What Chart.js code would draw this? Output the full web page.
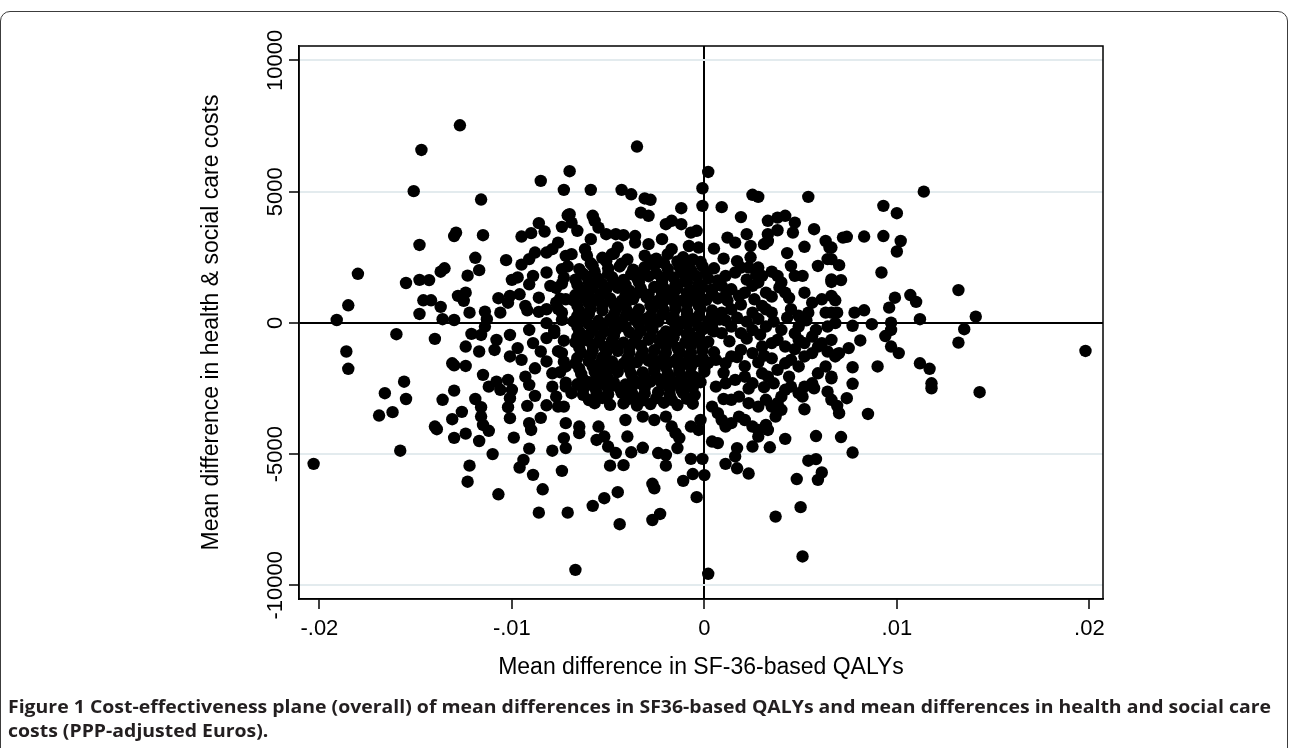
<!DOCTYPE html>
<html lang="en">
<head>
  <meta charset="UTF-8">
  <title>Cost-effectiveness plane</title>
  <script src="https://cdn.jsdelivr.net/npm/chart.js"></script>
  <style>
    body {
      margin: 0;
      background: #fff;
      width: 1290px;
      height: 748px;
      overflow: hidden;
      position: relative;
    }
    #frame {
      position: absolute;
      left: 0;
      top: 11px;
      width: 1286px;
      height: 800px;
      border: 1.5px solid #3c3c3c;
      border-radius: 10px;
    }
    #chartBox {
      position: absolute;
      left: 0;
      top: 0;
    }
    #caption {
      position: absolute;
      left: 8px;
      top: 694px;
      font-family: "Open Sans", "Noto Sans", sans-serif;
      font-weight: 700;
      font-size: 18.5px;
      line-height: 24px;
      color: #231f20;
      white-space: nowrap;
      transform-origin: left top;
    }
    #caption span { display: inline-block; }
  </style>
</head>
<body>
  <div id="frame"></div>
  <div id="chartBox">
    <canvas id="cePlane" width="1290" height="748"></canvas>
  </div>
  <div id="caption">
    <span id="capLine1">Figure 1 Cost-effectiveness plane (overall) of mean differences in SF36-based QALYs and mean differences in health and social care</span><br>
    <span>costs (PPP-adjusted Euros).</span>
  </div>

  <script>
    // axis ticks
    const xTicks = [-0.02, -0.01, 0, 0.01, 0.02];
    const xTickLabels = ['-.02', '-.01', '0', '.01', '.02'];
    const yTicks = [-10000, -5000, 0, 5000, 10000];
    const yTickLabels = ['-10000', '-5000', '0', '5000', '10000'];

    // bootstrap replicates: [mean diff in QALYs, mean diff in costs]
    const replicates = [
      // upper left
      [-0.0127,7530],[-0.0147,6590],[-0.0151,5020],[-0.0116,4700],[-0.0085,5410],[-0.0070,5780],[-0.0073,5070],[-0.0129,3440],[-0.0130,3310],[-0.0115,3340],
      [-0.0148,2970],[-0.0180,1870],[-0.0185,670],[-0.0191,110],[-0.0155,1520],[-0.0148,1640],[-0.0143,1630],[-0.0137,1950],[-0.0135,2080],[-0.0119,2480],
      [-0.0117,2010],[-0.0123,1800],[-0.0103,2390],[-0.0095,3290],[-0.0090,3420],[-0.0086,3800],[-0.0083,3480],[-0.0074,3660],[-0.0071,4100],[-0.0146,860],
      [-0.0142,860],[-0.0148,340],[-0.0137,610],[-0.0136,140],[-0.0130,110],[-0.0128,1030],[-0.0124,1150],[-0.0125,840],[-0.0122,390],[-0.0114,430],
      [-0.0113,140],[-0.0106,390],[-0.0107,940],[-0.0101,1030],[-0.0102,770],[-0.0096,1090],[-0.0100,1640],[-0.0097,1730],[-0.0093,650],[-0.0092,480],
      [-0.0091,1470],[-0.0089,1790],[-0.0095,2220],[-0.0091,2430],[-0.0088,2680],[-0.0086,960],[-0.0086,420],[-0.0082,520],[-0.0082,2680],[-0.0079,2810],
      [-0.0076,3060],[-0.0082,1920],[-0.0080,1410],[-0.0074,1500],[-0.0074,2050],[-0.0072,2550],[-0.0077,770],[-0.0072,900],[-0.0074,390],
      // upper middle
      [-0.0035,6720],[0.0002,5750],[-0.0001,5130],[-0.0001,4460],[-0.0059,5070],[-0.0043,5070],[-0.0038,4900],[-0.0031,4740],[-0.0028,4690],[-0.0033,4200],
      [-0.0029,4080],[-0.0012,4370],[0.0009,4410],[0.0019,4030],[0.0025,4880],[0.0028,4800],[0.0054,4800],[0.0033,3890],[0.0038,4010],[0.0042,4080],
      [0.0047,3820],[0.0057,3570],[0.0046,3440],[0.0038,3530],[0.0033,3380],[0.0012,3250],[0.0016,3060],[0.0022,3380],[0.0024,2930],[0.0031,3000],
      [0.0033,3120],[0.0052,2900],[0.0043,2660],[0.0063,3120],[0.0065,2870],[-0.0020,3760],[-0.0017,3890],[-0.0012,3760],[-0.0007,3440],[-0.0004,3510],
      [-0.0070,4140],[-0.0069,3820],[-0.0066,3510],[-0.0058,4080],[-0.0057,3890],[-0.0055,3630],[-0.0051,3380],[-0.0046,3380],[-0.0042,3340],[-0.0036,3310],
      [-0.0036,3060],[-0.0029,3000],[-0.0022,3190],[-0.0008,2930],[-0.0003,2870],[0.0005,2830],[-0.0017,2810],[-0.0045,2870],[-0.0048,2620],[-0.0059,3190],
      [-0.0062,2810],[-0.0069,2620],
      // upper right
      [0.0114,5000],[0.0093,4460],[0.0100,4180],[0.0072,3250],[0.0074,3280],[0.0083,3290],[0.0093,3310],[0.0102,3120],[0.0100,2720],[0.0092,1920],
      [0.0070,2200],[0.0066,2430],[0.0066,2870],[0.0071,1630],[0.0066,1560],[0.0132,1250],[0.0141,240],[0.0099,960],[0.0107,1060],[0.0110,800],
      [0.0096,580],[0.0078,390],[0.0083,480],[0.0068,860],[0.0069,390],[0.0112,140],[0.0097,10],[0.0087,-50],
      [0.0011,1790],[0.0016,1920],[0.0019,2110],[0.0023,2110],[0.0028,2110],[0.0030,1790],[0.0009,1410],[0.0014,1280],[0.0018,1030],[0.0021,1150],
      [0.0025,1410],[0.0028,1540],[0.0032,1150],[0.0038,1790],[0.0040,1540],[0.0042,1150],[0.0045,2170],[0.0047,1790],[0.0051,1790],[0.0052,1150],
      [0.0056,770],[0.0061,900],[0.0066,1030],[0.0063,390],[0.0066,390],[0.0045,520],[0.0049,270],[0.0054,390],[0.0025,390],[0.0032,520],
      [0.0035,390],[0.0009,390],[0.0014,520],[0.0059,2170],[0.0064,2430],[0.0066,1660],
      // lower left
      [-0.0203,-5370],[-0.0186,-1090],[-0.0185,-1750],[-0.0160,-430],[-0.0140,-610],[-0.0156,-2240],[-0.0166,-2680],[-0.0155,-2900],[-0.0169,-3530],[-0.0162,-3400],
      [-0.0158,-4870],[-0.0131,-1540],[-0.0130,-1620],[-0.0124,-1640],[-0.0124,-900],[-0.0136,-2930],[-0.0130,-2580],[-0.0126,-3390],[-0.0131,-3670],[-0.0140,-3950],
      [-0.0139,-4050],[-0.0130,-4380],[-0.0124,-4220],[-0.0117,-4500],[-0.0110,-5000],[-0.0122,-5440],[-0.0123,-6050],[-0.0107,-6530],[-0.0086,-7230],[-0.0084,-6340],
      [-0.0089,-5790],[-0.0096,-5510],[-0.0094,-5220],[-0.0091,-4790],[-0.0099,-4370],[-0.0079,-4870],[-0.0074,-5640],[-0.0071,-7230],[-0.0119,-2900],[-0.0116,-3210],
      [-0.0116,-3570],[-0.0115,-3890],[-0.0112,-4110],[-0.0115,-1980],[-0.0112,-2430],[-0.0108,-2240],[-0.0106,-2550],[-0.0102,-2170],[-0.0100,-2550],[-0.0101,-2870],
      [-0.0102,-3210],[-0.0101,-3630],[-0.0092,-3160],[-0.0088,-2780],[-0.0091,-3820],[-0.0090,-4080],[-0.0085,-3620],[-0.0082,-3140],[-0.0076,-3190],[-0.0121,-420],
      [-0.0117,-1090],[-0.0116,-460],[-0.0114,-140],[-0.0109,-1030],[-0.0108,-650],[-0.0101,-1280],[-0.0101,-460],[-0.0097,-960],[-0.0095,-1410],[-0.0093,-2050],
      [-0.0091,-2360],[-0.0091,-270],[-0.0089,-770],[-0.0085,-1090],[-0.0082,-580],[-0.0078,-390],[-0.0088,-1730],[-0.0082,-1470],[-0.0079,-1920],[-0.0079,-2430],
      [-0.0077,-2810],[-0.0074,-1150],[-0.0072,-1660],[-0.0072,-2430],[-0.0073,-3190],[-0.0072,-3820],[-0.0073,-4390],[-0.0072,-4770],[-0.0082,-10],
      // lower middle
      [-0.0067,-9410],[0.0002,-9560],[0.0051,-8900],[0.0037,-7380],[0.0050,-7020],[-0.0044,-7670],[-0.0027,-7510],[-0.0023,-7280],[-0.0058,-6970],[-0.0052,-6680],
      [-0.0045,-6450],[-0.0027,-6130],[-0.0026,-6300],[-0.0011,-6020],[-0.0006,-5760],[-0.0004,-6640],[0.0000,-5800],[0.0048,-5950],[0.0059,-5980],[0.0061,-5700],
      [0.0054,-5250],[0.0058,-5190],[0.0023,-5740],[0.0017,-5540],[0.0011,-5370],[-0.0049,-5440],[-0.0042,-5420],[-0.0020,-5440],[-0.0007,-5180],[-0.0001,-5180],
      [-0.0024,-4960],[-0.0020,-5030],[-0.0014,-4770],[-0.0038,-4930],[-0.0032,-4760],[-0.0046,-4960],[-0.0050,-4710],[0.0042,-4420],[0.0058,-4310],[0.0034,-4740],
      [0.0033,-4080],[0.0017,-4770],[0.0016,-5090],[0.0025,-4710],[0.0028,-4330],[0.0004,-4520],[0.0007,-4580],[0.0052,-3290],[0.0051,-2810],[0.0057,-2490],
      [0.0064,-2620],[0.0066,-2930],[0.0040,-3310],[0.0037,-3570],[-0.0065,-4200],[-0.0065,-3950],[-0.0056,-4460],[-0.0055,-3950],[-0.0052,-4330],[-0.0040,-4330],
      [-0.0041,-3700],[-0.0017,-3950],[-0.0015,-4200],[-0.0013,-4390],[-0.0007,-3950],[-0.0003,-4080],[-0.0002,-3700],[-0.0026,-3700],[-0.0020,-3570],[-0.0032,-3570],
      // lower right
      [0.0198,-1070],[0.0143,-2640],[0.0132,-750],[0.0135,-240],[0.0112,-1540],[0.0117,-1750],[0.0118,-2300],[0.0118,-2490],[0.0090,-1660],[0.0085,-3470],
      [0.0071,-4350],[0.0077,-4940],[0.0070,-3440],[0.0069,-3160],[0.0074,-2870],[0.0077,-2320],[0.0077,-1690],[0.0066,-2110],[0.0069,-1190],[0.0070,-1150],
      [0.0075,-960],[0.0081,-670],[0.0094,-500],[0.0097,-270],[0.0097,-900],[0.0101,-1150],[0.0077,-110],[0.0068,-10],
      // right of zero, middle band
      [0.0004,-3190],[0.0007,-3440],[0.0009,-3700],[0.0011,-3950],[0.0014,-3820],[0.0018,-3570],[0.0021,-3700],[0.0025,-3950],[0.0028,-4080],[0.0032,-3890],
      [0.0014,-2930],[0.0018,-2810],[0.0023,-3060],[0.0028,-3190],[0.0032,-2930],[0.0035,-3190],[0.0038,-3060],[0.0040,-2810],[0.0042,-2550],[0.0045,-2430],
      [0.0049,-2680],[0.0052,-2430],[0.0056,-2300],[0.0059,-1920],[0.0063,-1660],[0.0066,-2050],[0.0006,-2430],[0.0011,-2300],[0.0016,-2170],[0.0021,-2050],
      [0.0025,-2300],[0.0030,-1920],[0.0033,-2050],[0.0038,-1790],[0.0042,-1540],[0.0045,-1410],[0.0049,-1660],[0.0052,-1280],[0.0056,-1150],[0.0059,-900],
      [0.0064,-1090],[0.0068,-1280],[0.0006,-1410],[0.0011,-1540],[0.0014,-1280],[0.0019,-1030],[0.0025,-1150],[0.0030,-900],[0.0035,-770],[0.0038,-650],
      [0.0042,-900],[0.0049,-650],[0.0052,-770],[0.0056,-520],[0.0061,-770],[0.0066,-650],[0.0004,-270],[0.0009,-390],[0.0014,-140],[0.0019,-390],
      [0.0025,-270],[0.0032,-140],[0.0040,-270],[0.0049,-140],[0.0058,-270],[0.0064,-140],
      [0.0010,2450],[0.0017,2350],[0.0024,2500],[0.0011,1050],[0.0022,1650],[0.0027,1850],[0.0035,1950],[0.0012,850],[0.0019,700],[0.0026,900],
      [0.0030,650],[0.0035,1000],[0.0039,1350],[0.0044,950],[0.0011,100],[0.0017,200],[0.0022,50],[0.0028,150],[0.0036,50],[0.0043,200],
      [0.0047,-400],[0.0053,100],[0.0013,-700],[0.0022,-600],[0.0029,-450],[0.0017,-1300],[0.0031,-1250],[0.0021,-1650],[0.0028,-1500],[0.0035,-1350],
      [0.0023,-2500],[0.0031,-2450],[0.0036,-2300],[0.0010,-2900],[0.0044,-2050],[0.0047,-1000],[0.0010,-1900],
      // dense core
      [-0.0061,2560],[-0.0053,2480],[-0.0047,2640],[-0.0040,2420],[-0.0031,2560],[-0.0025,2450],[-0.0019,2620],[-0.0011,2500],[-0.0006,2420],
      [-0.0059,2270],[-0.0051,2350],[-0.0043,2260],[-0.0028,2370],[-0.0021,2280],[-0.0014,2340],[-0.0008,2260],[-0.0002,2320],
      [-0.0071,2150],[-0.0065,2050],[-0.0058,2180],[-0.0050,2080],[-0.0044,2150],[-0.0037,2030],[-0.0031,2120],[-0.0026,2200],[-0.0019,2060],[-0.0013,2140],[-0.0007,2020],[-0.0001,2160],[0.0005,2080],
      [-0.0063,1870],[-0.0057,1950],[-0.0050,1880],[-0.0038,1860],[-0.0032,1940],[-0.0025,1890],[-0.0019,1850],[-0.0012,1930],[-0.0006,1880],[0.0001,1910],
      [-0.0073,1720],[-0.0067,1650],[-0.0061,1760],[-0.0055,1680],[-0.0048,1740],[-0.0042,1640],[-0.0035,1710],[-0.0029,1780],[-0.0022,1660],[-0.0016,1730],[-0.0010,1650],[-0.0004,1770],[0.0002,1690],[0.0007,1620],
      [-0.0066,1460],[-0.0060,1540],[-0.0053,1480],[-0.0047,1520],[-0.0041,1450],[-0.0034,1550],[-0.0022,1520],[-0.0015,1460],[-0.0009,1540],[-0.0003,1480],
      [-0.0077,1330],[-0.0064,1250],[-0.0058,1360],[-0.0051,1280],[-0.0045,1340],[-0.0039,1230],[-0.0033,1310],[-0.0026,1370],[-0.0020,1260],[-0.0014,1320],[-0.0007,1240],[-0.0001,1350],[0.0004,1270],
      [-0.0067,1060],[-0.0060,1140],[-0.0054,1080],[-0.0041,1050],[-0.0035,1130],[-0.0029,1070],[-0.0022,1110],[-0.0016,1050],[-0.0009,1130],[-0.0003,1070],[0.0004,1110],
      [-0.0075,920],[-0.0068,860],[-0.0062,950],[-0.0056,880],[-0.0049,930],[-0.0043,840],[-0.0037,910],[-0.0030,970],[-0.0024,850],[-0.0018,920],[-0.0011,860],[-0.0005,950],[0.0001,880],[0.0007,930],
      [-0.0066,660],[-0.0060,740],[-0.0053,680],[-0.0047,710],[-0.0041,650],[-0.0028,670],[-0.0022,710],[-0.0015,650],[-0.0009,730],[-0.0003,670],
      [-0.0076,530],[-0.0065,460],[-0.0059,550],[-0.0053,480],[-0.0046,520],[-0.0040,440],[-0.0034,510],[-0.0027,560],[-0.0021,470],[-0.0015,530],[-0.0009,450],[-0.0002,540],[0.0004,470],
      [-0.0066,260],[-0.0060,340],[-0.0047,310],[-0.0041,250],[-0.0035,330],[-0.0028,270],[-0.0022,310],[-0.0016,250],[-0.0009,330],[-0.0003,270],[0.0004,300],
      [-0.0074,120],[-0.0068,60],[-0.0062,140],[-0.0055,80],[-0.0049,130],[-0.0043,40],[-0.0036,110],[-0.0030,160],[-0.0024,50],[-0.0017,120],[-0.0011,60],[-0.0005,140],[0.0002,70],[0.0008,130],
      [-0.0066,-140],[-0.0060,-60],[-0.0053,-120],[-0.0047,-90],[-0.0041,-150],[-0.0034,-70],[-0.0028,-130],[-0.0015,-150],[-0.0009,-70],[-0.0003,-130],[0.0004,-100],
      [-0.0078,-280],[-0.0065,-340],[-0.0058,-260],[-0.0052,-320],[-0.0046,-270],[-0.0039,-350],[-0.0033,-290],[-0.0027,-240],[-0.0020,-330],[-0.0014,-280],[-0.0008,-350],[-0.0001,-260],[0.0005,-320],
      [-0.0066,-540],[-0.0060,-460],[-0.0054,-520],[-0.0047,-490],[-0.0035,-470],[-0.0028,-530],[-0.0022,-490],[-0.0016,-550],[-0.0009,-470],[-0.0003,-530],
      [-0.0073,-680],[-0.0067,-740],[-0.0061,-660],[-0.0055,-720],[-0.0048,-670],[-0.0042,-750],[-0.0036,-690],[-0.0029,-640],[-0.0023,-730],[-0.0017,-680],[-0.0010,-750],[-0.0004,-660],[0.0002,-720],
      [-0.0065,-940],[-0.0058,-860],[-0.0052,-920],[-0.0046,-890],[-0.0039,-950],[-0.0033,-870],[-0.0020,-890],[-0.0014,-950],[-0.0007,-870],[-0.0001,-930],
      [-0.0076,-1080],[-0.0064,-1140],[-0.0058,-1060],[-0.0051,-1120],[-0.0045,-1070],[-0.0039,-1150],[-0.0032,-1090],[-0.0026,-1040],[-0.0020,-1130],[-0.0013,-1080],[-0.0007,-1150],[-0.0001,-1060],[0.0005,-1120],
      [-0.0066,-1340],[-0.0059,-1260],[-0.0053,-1320],[-0.0040,-1350],[-0.0033,-1270],[-0.0027,-1330],[-0.0021,-1290],[-0.0014,-1350],[-0.0008,-1270],[-0.0001,-1330],
      [-0.0073,-1480],[-0.0067,-1540],[-0.0060,-1460],[-0.0054,-1520],[-0.0048,-1470],[-0.0042,-1550],[-0.0035,-1490],[-0.0029,-1440],[-0.0023,-1530],[-0.0016,-1480],[-0.0010,-1550],[-0.0004,-1460],[0.0002,-1520],
      [-0.0065,-1740],[-0.0058,-1660],[-0.0052,-1720],[-0.0046,-1690],[-0.0039,-1750],[-0.0026,-1730],[-0.0020,-1690],[-0.0013,-1750],[-0.0007,-1670],[0.0000,-1730],
      [-0.0075,-1880],[-0.0064,-1940],[-0.0057,-1860],[-0.0051,-1920],[-0.0045,-1870],[-0.0038,-1950],[-0.0032,-1890],[-0.0026,-1840],[-0.0019,-1930],[-0.0013,-1880],[-0.0007,-1950],[0.0000,-1860],
      [-0.0063,-2140],[-0.0056,-2060],[-0.0050,-2120],[-0.0037,-2150],[-0.0031,-2070],[-0.0024,-2130],[-0.0018,-2090],[-0.0012,-2150],[-0.0005,-2070],
      [-0.0072,-2280],[-0.0066,-2340],[-0.0060,-2260],[-0.0053,-2320],[-0.0047,-2270],[-0.0041,-2350],[-0.0034,-2290],[-0.0028,-2240],[-0.0022,-2330],[-0.0015,-2280],[-0.0009,-2350],[-0.0002,-2260],
      [-0.0063,-2540],[-0.0057,-2460],[-0.0050,-2520],[-0.0044,-2490],[-0.0038,-2550],[-0.0031,-2470],[-0.0018,-2490],[-0.0012,-2550],[-0.0006,-2470],
      [-0.0069,-2680],[-0.0063,-2740],[-0.0056,-2660],[-0.0050,-2720],[-0.0043,-2670],[-0.0037,-2750],[-0.0031,-2690],[-0.0024,-2640],[-0.0018,-2730],[-0.0011,-2680],[-0.0005,-2750],
      [-0.0060,-2940],[-0.0053,-2860],[-0.0039,-2890],[-0.0032,-2950],[-0.0025,-2870],[-0.0017,-2930],[-0.0009,-2890],
      [-0.0057,-3060],[-0.0049,-3120],[-0.0042,-3070],[-0.0035,-3150],[-0.0028,-3090],[-0.0021,-3040],[-0.0014,-3130],[-0.0006,-3080]
    ];

    const axisFont = "'Liberation Sans', Arial, sans-serif";

    // draws the closed box round the plot region
    const plotFrame = {
      id: 'plotFrame',
      afterDraw(chart) {
        const a = chart.chartArea;
        const ctx = chart.ctx;
        ctx.save();
        ctx.strokeStyle = '#000';
        ctx.lineWidth = 1.5;
        ctx.strokeRect(a.left, a.top, a.right - a.left, a.bottom - a.top);
        ctx.restore();
      }
    };

    new Chart(document.getElementById('cePlane'), {
      type: 'scatter',
      data: {
        datasets: [{
          data: replicates.map(p => ({ x: p[0], y: p[1] })),
          backgroundColor: '#000',
          borderWidth: 0,
          pointRadius: 6.2,
          pointHoverRadius: 6.2
        }]
      },
      options: {
        responsive: false,
        animation: false,
        layout: { padding: { left: 0, top: 46, right: 187, bottom: 67 } },
        plugins: {
          legend: { display: false },
          tooltip: { enabled: false }
        },
        scales: {
          x: {
            type: 'linear',
            min: -0.02106,
            max: 0.02071,
            afterBuildTicks: s => { s.ticks = xTicks.map(v => ({ value: v })); },
            afterFit: s => { s.height = 82; },
            ticks: {
              callback: (v, i) => xTickLabels[i],
              font: { family: axisFont, size: 22 },
              color: '#000',
              padding: 7,
              maxRotation: 0,
              minRotation: 0,
              autoSkip: false
            },
            grid: {
              color: ctx => (ctx.tick && ctx.tick.value === 0) ? '#000' : 'rgba(0,0,0,0)',
              lineWidth: 2,
              tickColor: '#000',
              tickWidth: 1.5,
              tickLength: 10
            },
            border: { display: true, color: '#000', width: 1.5 },
            title: {
              display: true,
              text: 'Mean difference in SF-36-based QALYs',
              font: { family: axisFont, size: 23 },
              color: '#000',
              padding: { top: 0, bottom: 0 }
            }
          },
          y: {
            type: 'linear',
            min: -10520,
            max: 10550,
            afterBuildTicks: s => { s.ticks = yTicks.map(v => ({ value: v })); },
            afterFit: s => { s.width = 299; },
            ticks: {
              callback: (v, i) => yTickLabels[i],
              font: { family: axisFont, size: 22 },
              color: '#000',
              minRotation: 90,
              maxRotation: 90,
              crossAlign: 'center',
              padding: -21,
              autoSkip: false
            },
            grid: {
              color: ctx => (ctx.tick && ctx.tick.value === 0) ? '#000' : '#e3ebee',
              lineWidth: 2,
              tickColor: '#000',
              tickWidth: 1.5,
              tickLength: 10
            },
            border: { display: true, color: '#000', width: 1.5 },
            title: {
              display: true,
              text: 'Mean difference in health & social care costs',
              font: { family: axisFont, size: 23 },
              color: '#000',
              padding: { top: 198, bottom: 0 }
            }
          }
        }
      },
      plugins: [plotFrame]
    });

    // stretch the caption so its first line spans the figure width
    document.fonts.ready.then(() => {
      const w = document.getElementById('capLine1').getBoundingClientRect().width;
      const f = 1263 / w;
      document.getElementById('caption').style.transform = 'scaleX(' + f + ')';
    });
  </script>
</body>
</html>
